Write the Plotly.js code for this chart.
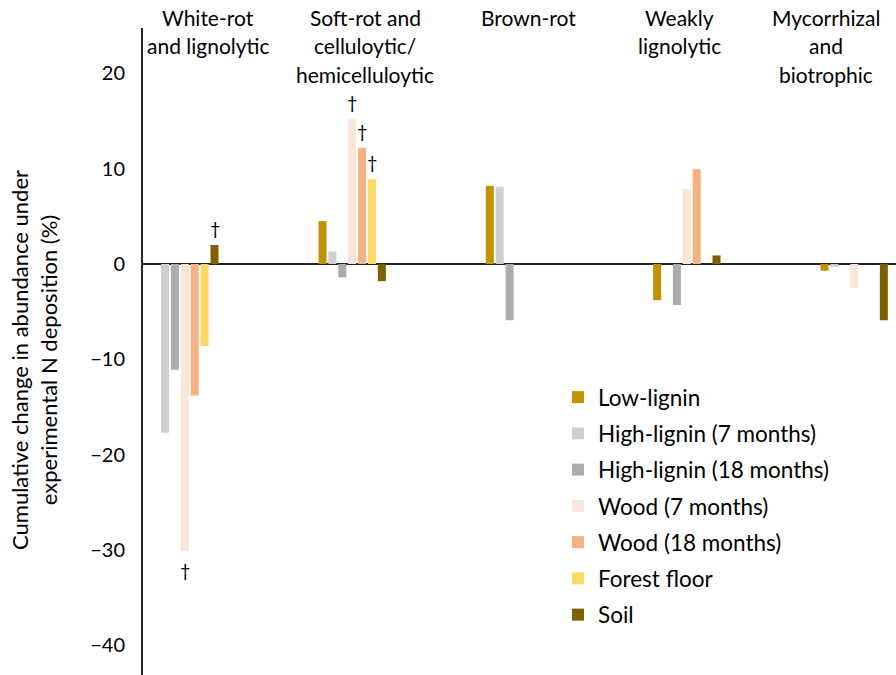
<!DOCTYPE html>
<html>
<head>
<meta charset="utf-8">
<script src="https://cdn.plot.ly/plotly-3.0.1.min.js"></script>
<style>
  html, body { margin: 0; padding: 0; background: #fff; }
  #chart { width: 896px; height: 675px; }
</style>
</head>
<body>
<div id="chart"></div>
<script>
// ---- data ----
const categories = [
  ['White-rot', 'and lignolytic'],
  ['Soft-rot and', 'celluloytic/', 'hemicelluloytic'],
  ['Brown-rot'],
  ['Weakly', 'lignolytic'],
  ['Mycorrhizal', 'and', 'biotrophic']
];
const seriesNames = ['Low-lignin', 'High-lignin (7 months)', 'High-lignin (18 months)',
  'Wood (7 months)', 'Wood (18 months)', 'Forest floor', 'Soil'];
const lowLignin    = [null, 4.5, 8.2, -3.8, -0.7];
const highLignin7  = [-17.7, 1.35, 8.1, null, -0.3];
const highLignin18 = [-11.1, -1.4, -5.9, -4.3, null];
const wood7        = [-30.1, 15.2, null, 7.9, -2.5];
const wood18       = [-13.8, 12.2, null, 9.95, null];
const forestFloor  = [-8.6, 8.9, null, null, null];
const soil         = [2.0, -1.8, null, 0.9, -5.9];
const yTicks = [-40, -30, -20, -10, 0, 10, 20];
// daggers: [category index, series index]
const daggers = [[0, 6], [1, 3], [1, 4], [1, 5], [0, 3]];

// ---- styling ----
const colors = ['#C39200', '#D0CECE', '#AFABAB', '#FBE5D6', '#F4B183', '#FFD966', '#7F6000'];
const allSeries = [lowLignin, highLignin7, highLignin18, wood7, wood18, forestFloor, soil];
const FONT = 'Lato, "Open Sans", sans-serif';
const W = 896, H = 675;
const M = {l: 143, r: 0, t: 28, b: 0};
const PW = W - M.l - M.r, PH = H - M.t - M.b;
const bargap = 0.586, bargroupgap = 0.19;
const xIdx = categories.map((_, i) => i);

const traces = allSeries.map((vals, i) => ({
  type: 'bar',
  x: xIdx,
  y: vals,
  name: seriesNames[i],
  legendgroup: 'g' + i,
  marker: {color: colors[i], line: {width: 0}},
  hoverinfo: 'skip'
}));

const annotations = [];
// category labels at the top (pixel-placed)
const labelCenters = [208, 365, 528, 679, 826];
const rowY = [17, 45.5, 74];
categories.forEach((lines, ci) => {
  lines.forEach((ln, li) => {
    annotations.push({
      text: ln, xref: 'paper', yref: 'paper',
      x: (labelCenters[ci] - M.l) / PW, y: 1 + (M.t - rowY[li]) / PH,
      xanchor: 'center', yanchor: 'middle', showarrow: false,
      font: {family: FONT, size: 21, color: '#000'}
    });
  });
});
// daggers
const slot = (1 - bargap) / allSeries.length;
daggers.forEach(([ci, si]) => {
  const v = allSeries[si][ci];
  annotations.push({
    text: '†', x: ci + (si - (allSeries.length - 1) / 2) * slot, y: v,
    xref: 'x', yref: 'y', showarrow: false,
    yanchor: v >= 0 ? 'bottom' : 'top', yshift: v >= 0 ? 4 : -6,
    font: {family: FONT, size: 18, color: '#000'}
  });
});
// y-axis title
annotations.push({
  text: 'Cumulative change in abundance under<br>experimental N deposition (%)',
  xref: 'paper', yref: 'paper', x: (34 - M.l) / PW, y: 1 - (360 - M.t) / PH,
  xanchor: 'center', yanchor: 'middle', textangle: -90, showarrow: false,
  font: {family: FONT, size: 22, color: '#000'}
});

const layout = {
  width: W, height: H,
  margin: M,
  paper_bgcolor: '#fff', plot_bgcolor: '#fff',
  barmode: 'group', bargap: bargap, bargroupgap: bargroupgap,
  showlegend: true,
  legend: {
    x: (558 - M.l) / PW, y: 1 - (376 - M.t) / PH, xanchor: 'left', yanchor: 'top',
    font: {family: FONT, size: 22.5, color: '#000'},
    tracegroupgap: 4, bgcolor: 'rgba(0,0,0,0)'
  },
  xaxis: {
    range: [-0.25, 4.25], showticklabels: false, showgrid: false, zeroline: false,
    showline: false, ticks: ''
  },
  yaxis: {
    range: [-43.13, 24.77], tickvals: yTicks, ticktext: yTicks.map(v => v < 0 ? '\u2212' + Math.abs(v) : String(v)),
    showgrid: false, zeroline: true, zerolinecolor: '#262626', zerolinewidth: 2,
    showline: true, linecolor: '#262626', linewidth: 2, ticks: '',
    ticklabelstandoff: 12,
    tickfont: {family: FONT, size: 20, color: '#000'}
  },
  annotations: annotations
};

Plotly.newPlot('chart', traces, layout, {displayModeBar: false, staticPlot: true});
</script>
</body>
</html>
